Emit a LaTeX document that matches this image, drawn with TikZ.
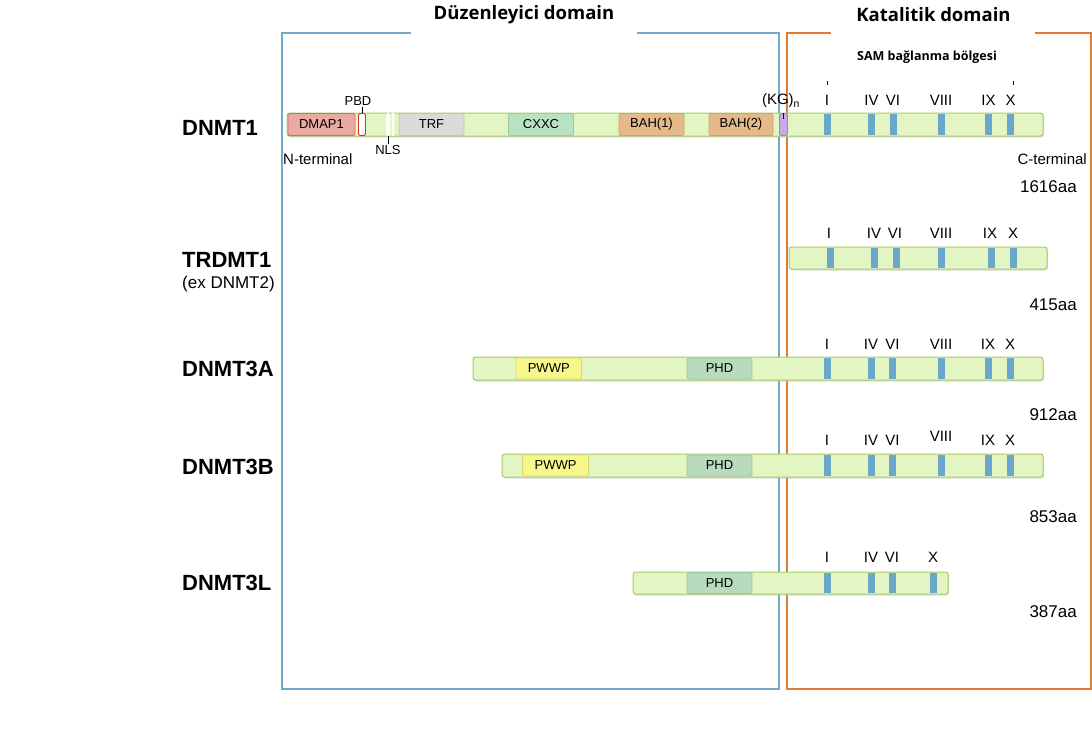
\documentclass[tikz,border=0pt]{standalone}
\usepackage{fontspec}
\setmainfont{Liberation Sans}
\newfontfamily\titlefont{Open Sans}
\usetikzlibrary{shadows}
\definecolor{barfill}{HTML}{E3F5C3}
\definecolor{barline}{HTML}{A5CC66}
\definecolor{motifcol}{HTML}{6BA7C9}
\definecolor{dmapfill}{HTML}{E9AAA4}
\definecolor{dmapline}{HTML}{D46A6A}
\definecolor{pbdfill}{HTML}{FFFFFF}
\definecolor{pbdline}{HTML}{E03030}
\definecolor{nlsfill}{HTML}{FFFFFF}
\definecolor{nlsline}{HTML}{FFFFFF}
\definecolor{trffill}{HTML}{DADADA}
\definecolor{trfline}{HTML}{C4C4C4}
\definecolor{cxxcfill}{HTML}{B9E2C2}
\definecolor{cxxcline}{HTML}{9CCB9C}
\definecolor{bahfill}{HTML}{E6B98A}
\definecolor{bahline}{HTML}{D3A070}
\definecolor{pwwpfill}{HTML}{F7F78C}
\definecolor{pwwpline}{HTML}{D8D870}
\definecolor{phdfill}{HTML}{B8DBBE}
\definecolor{phdline}{HTML}{9CC59C}
\definecolor{kgfill}{HTML}{C7A9E6}
\definecolor{kgline}{HTML}{A080C8}
\definecolor{regbox}{HTML}{72A9C9}
\definecolor{catbox}{HTML}{E07C32}
\tikzset{
  bar/.style={draw=barline, fill=barfill, line width=1pt, rounded corners=2.5pt,
    drop shadow={shadow xshift=1pt, shadow yshift=-1.5pt, fill=black!25, opacity=.5}},
  dom/.style={draw=#1line, fill=#1fill, line width=.8pt, rounded corners=1.5pt,
    minimum height=22pt, inner sep=0pt, font=\fontsize{13}{13}\selectfont},
  motif/.style={fill=motifcol},
  roman/.style={font=\fontsize{15}{15}\selectfont, inner sep=1pt},
  small/.style={font=\fontsize{13}{13}\selectfont, inner sep=1pt},
  prot/.style={font=\bfseries\fontsize{22}{22}\selectfont, anchor=west, inner sep=0pt},
  aa/.style={font=\fontsize{17}{17}\selectfont, anchor=east, inner sep=0pt},
  term/.style={font=\fontsize{15}{15}\selectfont, inner sep=0pt},
  title/.style={font=\titlefont\bfseries\fontsize{18.5}{18.5}\selectfont},
  tick/.style={line width=.7pt}
}
\begin{document}
\begin{tikzpicture}[x=1pt,y=-1pt]
\useasboundingbox (0,0) rectangle (1092,729);
% boxes
\draw[regbox, line width=2.5pt] (411,33) -- (282,33) -- (282,689) -- (779,689) -- (779,33) -- (637,33);
\draw[catbox, line width=2.5pt] (831,33) -- (787,33) -- (787,689) -- (1091,689) -- (1091,33) -- (1035,33);
\node[title] (regtitle) at (524,15) {Düzenleyici domain};
\node[title] (cattitle) at (933.5,15) {Katalitik domain};
\node[title, font=\titlefont\bfseries\fontsize{12.5}{12.5}\selectfont] (sam) at (927,57) {SAM bağlanma bölgesi};

% DNMT1
\node[prot] (dnmt1) at (182,127.5) {DNMT1};
\draw[bar] (287,113) rectangle (1043,136);
\node[dom=dmap, minimum width=67pt] (dmap) at (321.5,124.5) {DMAP1};
\node[dom=pbd, minimum width=7pt] (pbd) at (362,124.5) {};
\node[dom=nls, minimum width=3.5pt] (nls) at (388,124.5) {};
\node[dom=nls, minimum width=1.5pt] (nlsb) at (393,124.5) {};
\node[dom=trf, minimum width=65pt] (trf) at (431.5,124.5) {TRF};
\node[dom=cxxc, minimum width=65pt] (cxxc) at (541,124.5) {CXXC};
\node[dom=bah, minimum width=65pt] (bah1) at (651.5,124.5) {BAH(1)};
\node[dom=bah, minimum width=64pt] (bah2) at (741,124.5) {BAH(2)};
\node[dom=kg, minimum width=8pt] (kg) at (783.5,124.5) {};
\foreach \x in {827,871.5,893,941,988.5,1010.5}
  \fill[motif] ({\x-3.5},113.6) rectangle ({\x+3.5},135.4);
\foreach \x/\t in {827/I,871.5/IV,893/VI,941/VIII,988.5/IX,1010.5/X}
  \node[roman] (a\t) at (\x,100) {\t};
\draw[tick] (827,81) -- (827,85);
\draw[tick] (1013,81) -- (1013,85);
\node[small] (pbdlab) at (358,101) {PBD};
\node[small] (nlslab) at (388,150) {NLS};
\node[font=\fontsize{15}{15}\selectfont, inner sep=1pt] (kglab) at (781,101) {(KG)\textsubscript{n}};
\draw[tick] (pbd.north) -- (pbd.north |- pbdlab.south);
\draw[tick] (nls.south) -- (nls.south |- nlslab.north);
\draw[tick] (kg.north) -- ++(0,6);
\node[term, anchor=west] (nterm) at (283,159) {N-terminal};
\node[term, anchor=east] (cterm) at (1087,159) {C-terminal};
\node[aa] (len1) at (1077,187) {1616aa};

% TRDMT1
\node[prot] (trdmt1) at (182,260) {TRDMT1};
\node[anchor=west, inner sep=0pt, font=\fontsize{17}{17}\selectfont] (exdnmt2) at (182,284) {(ex DNMT2)};
\draw[bar] (789,247) rectangle (1047,269);
\foreach \x in {830,874.5,896,941,991.5,1013.5}
  \fill[motif] ({\x-3.5},247.6) rectangle ({\x+3.5},268.4);
\foreach \x/\t in {829/I,874/IV,895/VI,941/VIII,990/IX,1013/X}
  \node[roman] (b\t) at (\x,233) {\t};
\node[aa] (len2) at (1077,305) {415aa};

% DNMT3A
\node[prot] (dnmt3a) at (182,369) {DNMT3A};
\draw[bar] (473,357) rectangle (1043,380);
\node[dom=pwwp, minimum width=65.5pt, minimum height=21pt] (pwwpa) at (548.75,368.5) {PWWP};
\node[dom=phd, minimum width=65pt, minimum height=21pt] (phda) at (719.5,368.5) {PHD};
\foreach \x in {827,871,892.5,941,988,1010}
  \fill[motif] ({\x-3.5},357.6) rectangle ({\x+3.5},379.4);
\foreach \x/\t in {827/I,871/IV,892.5/VI,941/VIII,988/IX,1010/X}
  \node[roman] (c\t) at (\x,344) {\t};
\node[aa] (len3) at (1077,415) {912aa};

% DNMT3B
\node[prot] (dnmt3b) at (182,467) {DNMT3B};
\draw[bar] (502,454) rectangle (1043,477);
\node[dom=pwwp, minimum width=66pt, minimum height=21pt] (pwwpb) at (555.6,465.5) {PWWP};
\node[dom=phd, minimum width=65pt, minimum height=21pt] (phdb) at (719.5,465.5) {PHD};
\foreach \x in {827,871,892.5,941,988,1010}
  \fill[motif] ({\x-3.5},454.6) rectangle ({\x+3.5},476.4);
\foreach \x/\t in {827/I,871/IV,892.5/VI,988/IX,1010/X}
  \node[roman] (d\t) at (\x,440) {\t};
\node[roman] (dVIII) at (941,436) {VIII};
\node[aa] (len4) at (1077,517) {853aa};

% DNMT3L
\node[prot] (dnmt3l) at (182,583) {DNMT3L};
\draw[bar] (633,572) rectangle (948,594);
\node[dom=phd, minimum width=65pt, minimum height=21pt] (phdl) at (719.5,583) {PHD};
\foreach \x in {827,871,892,933}
  \fill[motif] ({\x-3.5},572.6) rectangle ({\x+3.5},593.4);
\foreach \x/\t in {827/I,871/IV,892/VI,933/X}
  \node[roman] (e\t) at (\x,557) {\t};
\node[aa] (len5) at (1077,612) {387aa};
\end{tikzpicture}
\end{document}
